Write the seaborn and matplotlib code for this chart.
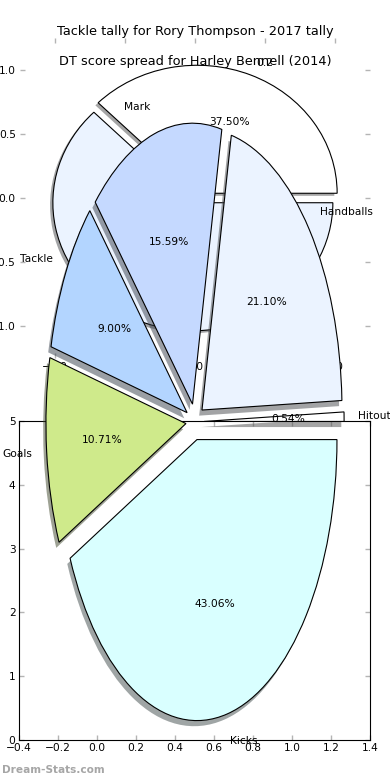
import numpy as np
import matplotlib
matplotlib.use("Agg")
import matplotlib.pyplot as plt
import seaborn as sns
from matplotlib.colors import to_rgb

# Tackle tally for Rory Thompson (top pie)
tackle_labels = ["0.2", ""]
tackle_share = [37.5, 62.5]
tackle_colors = ["#ffffff", "#ebf3ff"]

# DT score spread for Harley Bennell (bottom pie), anticlockwise from 3 o'clock
dt_labels = ["Hitout", "Handballs", "Mark", "Tackle", "Goals", "Kicks"]
dt_share = [0.54, 21.10, 15.59, 9.00, 10.71, 43.06]
dt_colors = ["#ffffff", "#ebf3ff", "#c5d9ff", "#b3d5ff", "#cfea8b", "#d9ffff"]

# ticks of the empty frame and of the pie axes
frame_xticks = [-0.4, -0.2, 0.0, 0.2, 0.4, 0.6, 0.8, 1.0, 1.2, 1.4]
frame_yticks = [0, 1, 2, 3, 4, 5]
pie_ticks = [-1.0, -0.5, 0.0, 0.5, 1.0]

sns.set_theme(style="white")
plt.rcParams['font.family'] = ['DejaVu Sans']
plt.rcParams['text.color'] = 'black'
FS = 7.7
TFS = 9.3
TICK_GREY = '#b4b4b4'

fig = plt.figure(figsize=(3.9, 7.8), dpi=100)
fig.patch.set_facecolor('white')


def shadowed_pie(ax, values, colors, labels, explode):
    shade = [tuple(0.3 * np.array(to_rgb(c))) for c in colors]
    ax.pie(values, explode=[explode] * len(values), colors=shade, center=(-0.02, -0.02),
           startangle=0, wedgeprops=dict(alpha=0.5, linewidth=0))
    ax.pie(values, explode=[explode] * len(values), labels=labels, colors=colors,
           autopct='%1.2f%%', startangle=0,
           wedgeprops=dict(edgecolor='black', linewidth=0.8),
           textprops=dict(fontsize=FS, color='black'))
    ax.set_xlim(-1.25, 1.25)
    ax.set_ylim(-1.25, 1.25)
    ax.set_aspect('auto')


# empty frame (drawn first, underneath)
ax_b = fig.add_axes([19 / 390, 40 / 780, 351 / 390, 319 / 780])
ax_b.set_xlim(-0.4, 1.4)
ax_b.set_ylim(0, 5)
ax_b.set_xticks(frame_xticks)
ax_b.set_yticks(frame_yticks)
for s in ax_b.spines.values():
    s.set_color('black')
    s.set_linewidth(0.8)
ax_b.tick_params(direction='in', length=3.5, width=1, color=TICK_GREY, labelcolor='black',
                 labelsize=FS, pad=2.5, top=True, right=True, bottom=True, left=True)

# top pie
ax_a = fig.add_axes([20 / 390, 422 / 780, 350 / 390, 320 / 780])
ax_a.set_facecolor('none')
shadowed_pie(ax_a, tackle_share, tackle_colors, tackle_labels, 0.04)
ax_a.set_frame_on(False)
ax_a.set_xticks(pie_ticks)
ax_a.set_yticks(pie_ticks)
ax_a.tick_params(direction='in', length=3.5, width=1, color=TICK_GREY, labelcolor='black',
                 labelsize=FS, pad=3, top=True, right=True, bottom=True, left=True)
ax_a.set_title("Tackle tally for Rory Thompson - 2017 tally", fontsize=TFS, pad=2.5)

# bottom pie, stretched over the frame
ax_c = fig.add_axes([20 / 390, 7 / 780, 350 / 390, 702.5 / 780])
ax_c.set_facecolor('none')
shadowed_pie(ax_c, dt_share, dt_colors, dt_labels, 0.065)
ax_c.axis('off')
ax_c.set_title("DT score spread for Harley Bennell (2014)", fontsize=TFS, pad=3.6)

fig.text(0.005, 10 / 780, "Dream-Stats.com", fontsize=7.6, fontweight='bold',
         color='#a6a6a6', ha='left', va='center')

fig.savefig('out.png', dpi=100, facecolor='white')
